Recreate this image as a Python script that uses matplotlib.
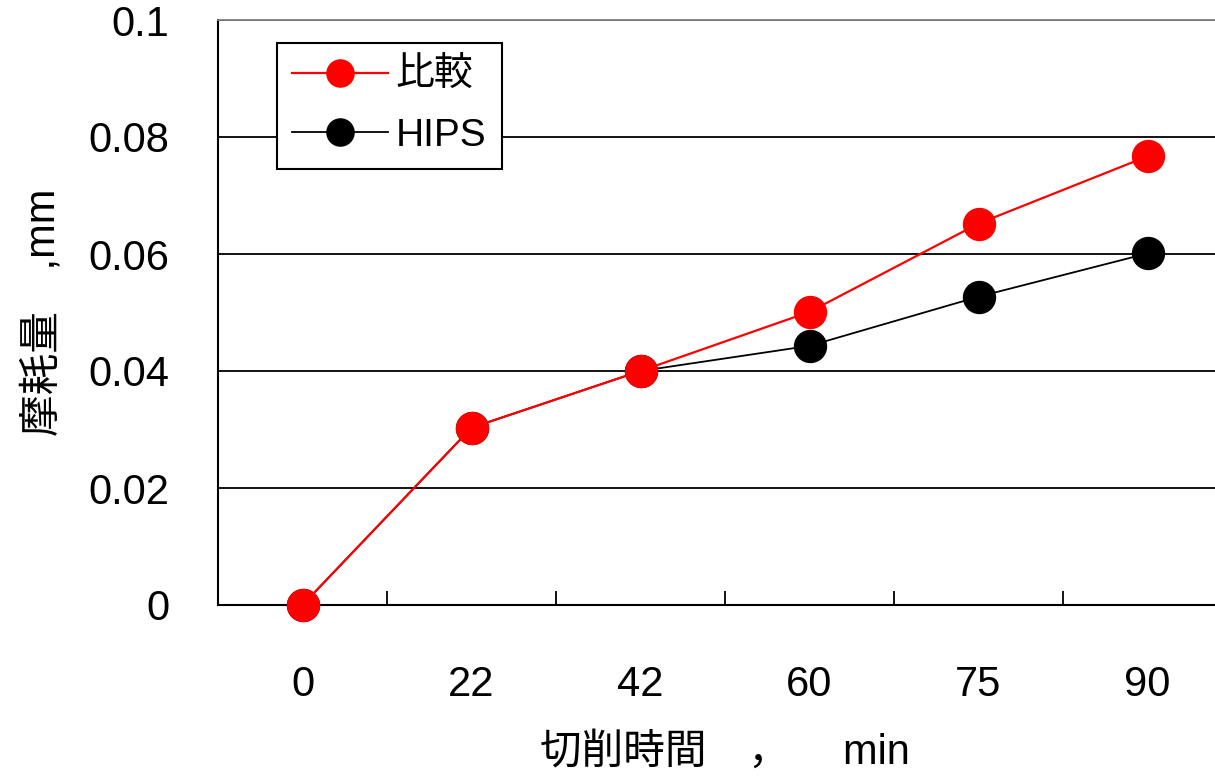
import numpy as np
import matplotlib.pyplot as plt

plt.rcParams['font.family'] = ['Liberation Sans', 'Noto Sans CJK JP', 'DejaVu Sans']

# dane
czas = ['0', '22', '42', '60', '75', '90']
hikaku = [0.0, 0.0303, 0.0400, 0.0501, 0.0652, 0.0767]
hips = [0.0, 0.0303, 0.0400, 0.0443, 0.0527, 0.0601]

fig = plt.figure(figsize=(12.15, 7.81), dpi=100)
ax = fig.add_axes([218/1215, 1-605/781, 1014/1215, 585/781])

x = np.arange(len(czas))
ax.plot(x, hips, color='black', lw=1.3, marker='o', ms=23, label='HIPS', zorder=3, clip_on=False)
ax.plot(x, hikaku, color='red', lw=1.6, marker='o', ms=23, label='比較', zorder=4, clip_on=False)

ax.set_xlim(-0.5, 5.5)
ax.set_ylim(0, 0.1)
ax.set_xticks(x)
ax.set_xticklabels(czas)
ax.set_xticks(x[:-1] + 0.5, minor=True)
ax.tick_params(axis='x', which='major', length=0, pad=43, labelsize=30)
ax.tick_params(axis='x', which='minor', direction='in', length=10, width=1.3)
ax.set_yticks([0, 0.02, 0.04, 0.06, 0.08, 0.1])
ax.set_yticklabels(['0', '0.02', '0.04', '0.06', '0.08', '0.1'])
ax.tick_params(axis='y', length=0, pad=35, labelsize=30)
ax.grid(axis='y', color='black', lw=1.3)

for s in ['left', 'bottom']:
    ax.spines[s].set_linewidth(1.5)
    ax.spines[s].set_color('black')
ax.spines['top'].set_color('#808080')
ax.spines['top'].set_linewidth(1.3)
ax.spines['right'].set_visible(False)

ax.set_xlabel('切削時間　， 　min', fontsize=30, labelpad=20)
ax.set_ylabel('摩耗量　,mm', fontsize=30, labelpad=18)

h, l = ax.get_legend_handles_labels()
leg = ax.legend(h[::-1], l[::-1], loc='upper left', bbox_to_anchor=(0.058, 0.961),
                borderaxespad=0, fontsize=28, handlelength=2.45, markerscale=0.85,
                fancybox=False, edgecolor='black', framealpha=1,
                handletextpad=0.2, labelspacing=0.6, borderpad=0.4)
leg.get_frame().set_linewidth(1.5)

plt.savefig('out.png', dpi=100)
